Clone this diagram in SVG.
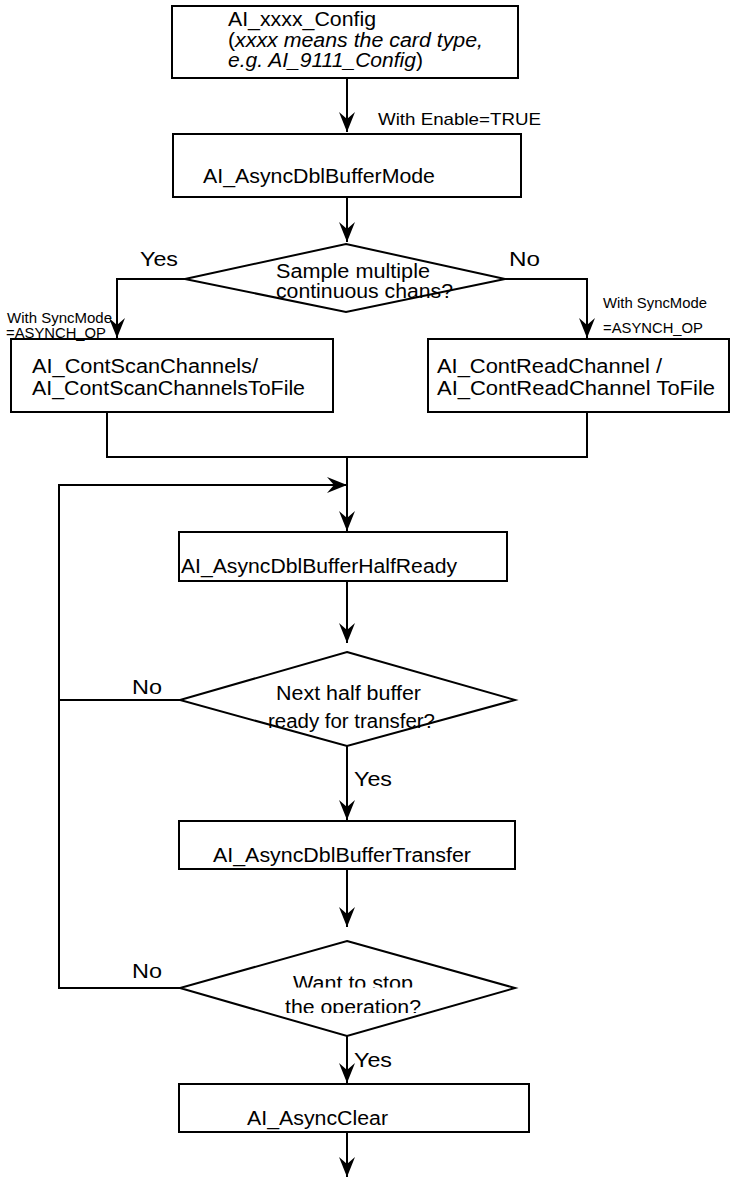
<svg xmlns="http://www.w3.org/2000/svg" width="732" height="1178" viewBox="0 0 732 1178">
  <style>
    .box { fill: none; stroke: #000; stroke-width: 2; }
    .wire { fill: none; stroke: #000; stroke-width: 2; }
    .t { font-family: "Liberation Sans", Arial, sans-serif; font-size: 20px; fill: #000; }
    .s { font-family: "Liberation Sans", Arial, sans-serif; font-size: 15px; fill: #000; }
    .m { font-family: "Liberation Sans", Arial, sans-serif; font-size: 17px; fill: #000; }
    .i { font-style: italic; }
  </style>
  <defs>
    <marker id="arrow" markerUnits="userSpaceOnUse" markerWidth="22" markerHeight="20" viewBox="-21 -10 22 20" refX="0" refY="0" orient="auto">
      <path d="M0,0 L-20,-8 L-13,0 L-20,8 Z" fill="#000"/>
    </marker>
    <clipPath id="clipStop1"><rect x="0" y="900" width="732" height="87.5"/></clipPath>
    <clipPath id="clipStop2"><rect x="0" y="990" width="732" height="23"/></clipPath>
  </defs>
  <rect width="732" height="1178" fill="#fff"/>

  <!-- connectors -->
  <g id="connectors">
    <path class="wire" d="M347,78 V132" marker-end="url(#arrow)"/>
    <path class="wire" d="M347,197 V242" marker-end="url(#arrow)"/>
    <path class="wire" d="M185,279 H117 V338" marker-end="url(#arrow)"/>
    <path class="wire" d="M505,279 H587 V338" marker-end="url(#arrow)"/>
    <path class="wire" d="M107,412 V457 H587 V412"/>
    <path class="wire" d="M347,457 V531" marker-end="url(#arrow)"/>
    <path class="wire" d="M180,700 H59 V485 H347" marker-end="url(#arrow)"/>
    <path class="wire" d="M180,988 H59 V700"/>
    <path class="wire" d="M347,581 V643" marker-end="url(#arrow)"/>
    <path class="wire" d="M347,746 V820" marker-end="url(#arrow)"/>
    <path class="wire" d="M347,869 V927" marker-end="url(#arrow)"/>
    <path class="wire" d="M347,1036 V1083" marker-end="url(#arrow)"/>
    <path class="wire" d="M347,1132 V1177" marker-end="url(#arrow)"/>
  </g>

  <!-- connector labels -->
  <g id="labels">
    <text class="m" x="378" y="125" textLength="163" lengthAdjust="spacingAndGlyphs">With Enable=TRUE</text>
    <text class="t" x="140" y="266" textLength="38" lengthAdjust="spacingAndGlyphs">Yes</text>
    <text class="t" x="509" y="266" textLength="31" lengthAdjust="spacingAndGlyphs">No</text>
    <text class="s" x="7" y="323" textLength="105" lengthAdjust="spacingAndGlyphs">With SyncMode</text>
    <text class="s" x="6" y="338" textLength="100" lengthAdjust="spacingAndGlyphs">=ASYNCH_OP</text>
    <text class="s" x="603" y="308" textLength="104" lengthAdjust="spacingAndGlyphs">With SyncMode</text>
    <text class="s" x="603" y="333" textLength="100" lengthAdjust="spacingAndGlyphs">=ASYNCH_OP</text>
    <text class="t" x="132" y="694" textLength="30" lengthAdjust="spacingAndGlyphs">No</text>
    <text class="t" x="354" y="786" textLength="38" lengthAdjust="spacingAndGlyphs">Yes</text>
    <text class="t" x="132" y="978" textLength="30" lengthAdjust="spacingAndGlyphs">No</text>
    <text class="t" x="354" y="1067" textLength="38" lengthAdjust="spacingAndGlyphs">Yes</text>
  </g>

  <g id="config">
    <rect class="box" x="172" y="6" width="346" height="72"/>
    <text class="t" x="228" y="26" textLength="148" lengthAdjust="spacingAndGlyphs">AI_xxxx_Config</text>
    <text class="t" x="228" y="47" textLength="255" lengthAdjust="spacingAndGlyphs">(<tspan class="i">xxxx means the card type,</tspan></text>
    <text class="t" x="228" y="67" textLength="195" lengthAdjust="spacingAndGlyphs"><tspan class="i">e.g. AI_9111_Config</tspan>)</text>
  </g>

  <g id="dblBufferMode">
    <rect class="box" x="173" y="134" width="348" height="63"/>
    <text class="t" x="203" y="183" textLength="232" lengthAdjust="spacingAndGlyphs">AI_AsyncDblBufferMode</text>
  </g>

  <g id="decisionChans">
    <polygon class="box" points="346,244 505,279 346,312 185,279"/>
    <text class="t" x="276" y="278" textLength="154" lengthAdjust="spacingAndGlyphs">Sample multiple</text>
    <text class="t" x="276" y="298" textLength="177" lengthAdjust="spacingAndGlyphs">continuous chans?</text>
  </g>

  <g id="contScan">
    <rect class="box" x="11" y="339" width="322" height="73"/>
    <text class="t" x="32" y="373" textLength="226" lengthAdjust="spacingAndGlyphs">AI_ContScanChannels/</text>
    <text class="t" x="32" y="395" textLength="273" lengthAdjust="spacingAndGlyphs">AI_ContScanChannelsToFile</text>
  </g>

  <g id="contRead">
    <rect class="box" x="428" y="339" width="301" height="73"/>
    <text class="t" x="437" y="373" textLength="225" lengthAdjust="spacingAndGlyphs">AI_ContReadChannel /</text>
    <text class="t" x="437" y="395" textLength="278" lengthAdjust="spacingAndGlyphs">AI_ContReadChannel ToFile</text>
  </g>

  <g id="halfReady">
    <rect class="box" x="179" y="532" width="328" height="49"/>
    <text class="t" x="181" y="573" textLength="276" lengthAdjust="spacingAndGlyphs">AI_AsyncDblBufferHalfReady</text>
  </g>

  <g id="decisionHalf">
    <polygon class="box" points="347,652 515,700 347,746 180,700"/>
    <text class="t" x="276" y="700" textLength="145" lengthAdjust="spacingAndGlyphs">Next half buffer</text>
    <text class="t" x="268" y="728" textLength="167" lengthAdjust="spacingAndGlyphs">ready for transfer?</text>
  </g>

  <g id="transfer">
    <rect class="box" x="179" y="821" width="336" height="48"/>
    <text class="t" x="213" y="862" textLength="258" lengthAdjust="spacingAndGlyphs">AI_AsyncDblBufferTransfer</text>
  </g>

  <g id="decisionStop">
    <polygon class="box" points="347,941 515,988 347,1036 180,988"/>
    <text class="t" x="293" y="990" textLength="120" lengthAdjust="spacingAndGlyphs" clip-path="url(#clipStop1)">Want to stop</text>
    <text class="t" x="285" y="1014" textLength="136" lengthAdjust="spacingAndGlyphs" clip-path="url(#clipStop2)">the operation?</text>
  </g>

  <g id="asyncClear">
    <rect class="box" x="179" y="1084" width="350" height="48"/>
    <text class="t" x="247" y="1125" textLength="141" lengthAdjust="spacingAndGlyphs">AI_AsyncClear</text>
  </g>
</svg>
